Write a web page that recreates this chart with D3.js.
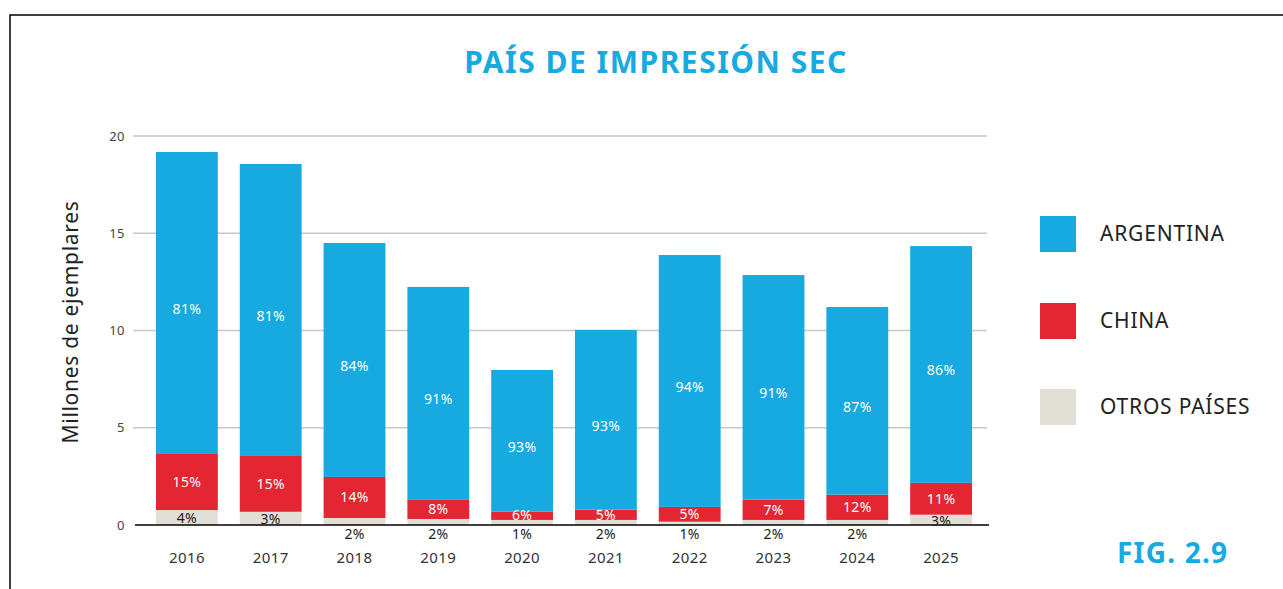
<!DOCTYPE html>
<html>
<head>
<meta charset="utf-8">
<script src="https://cdn.jsdelivr.net/npm/d3@7"></script>
<style>
  body { margin: 0; background: #fff; }
  svg { display: block; font-family: "Noto Sans", sans-serif; }
</style>
</head>
<body>
<svg id="chart" width="1283" height="589"></svg>
<script>
// data (millions of copies)
const years = ["2016", "2017", "2018", "2019", "2020", "2021", "2022", "2023", "2024", "2025"];
const argentina = [15.53, 15.01, 12.03, 10.95, 7.29, 9.24, 12.95, 11.55, 9.65, 12.17];
const china = [2.88, 2.87, 2.11, 0.98, 0.42, 0.53, 0.76, 1.04, 1.30, 1.64];
const otros = [0.77, 0.68, 0.36, 0.31, 0.26, 0.26, 0.17, 0.26, 0.26, 0.53];

// percentage labels printed on the bars
const pctArgentina = ["81%", "81%", "84%", "91%", "93%", "93%", "94%", "91%", "87%", "86%"];
const pctChina = ["15%", "15%", "14%", "8%", "6%", "5%", "5%", "7%", "12%", "11%"];
const pctOtros = ["4%", "3%", "2%", "2%", "1%", "2%", "1%", "2%", "2%", "3%"];

const yTicks = [0, 5, 10, 15, 20];
const seriesNames = ["ARGENTINA", "CHINA", "OTROS PAÍSES"];
const colors = ["#16aae1", "#e42632", "#e2e0d6"];

const svg = d3.select("#chart");

// frame lines (top and left)
svg.append("path")
    .attr("d", "M10,589 L10,15 L1283,15")
    .attr("fill", "none")
    .attr("stroke", "#000")
    .attr("stroke-width", 1.5);

const x = d3.scaleBand()
    .domain(years)
    .range([145, 983])
    .paddingInner(0.262)
    .paddingOuter(0.131);

const y = d3.scaleLinear()
    .domain([0, 20])
    .range([525, 136]);

// gridlines + tick labels
const grid = svg.append("g");
grid.selectAll("line")
    .data(yTicks.filter(d => d > 0))
    .join("line")
    .attr("x1", 133).attr("x2", 987)
    .attr("y1", d => y(d)).attr("y2", d => y(d))
    .attr("stroke", "#c8c8c8")
    .attr("stroke-width", 1.5);

grid.selectAll("text")
    .data(yTicks)
    .join("text")
    .attr("x", 125)
    .attr("y", d => y(d))
    .attr("dy", "0.35em")
    .attr("text-anchor", "end")
    .attr("font-size", 13)
    .attr("letter-spacing", 0.5)
    .attr("fill", "#444")
    .text(d => d);

// stack the series
const rows = years.map((yr, i) => ({ year: yr, a: argentina[i], c: china[i], o: otros[i] }));
const stack = d3.stack().keys(["o", "c", "a"])(rows);
const colorFor = { a: colors[0], c: colors[1], o: colors[2] };

svg.append("g").selectAll("g")
    .data(stack)
    .join("g")
    .attr("fill", d => colorFor[d.key])
    .selectAll("rect")
    .data(d => d)
    .join("rect")
    .attr("x", d => x(d.data.year))
    .attr("width", x.bandwidth())
    .attr("y", d => y(d[1]))
    .attr("height", d => y(d[0]) - y(d[1]));

// baseline
svg.append("line")
    .attr("x1", 135).attr("x2", 989)
    .attr("y1", y(0)).attr("y2", y(0))
    .attr("stroke", "#000")
    .attr("stroke-width", 1.5);

// labels
const labels = svg.append("g").attr("font-size", 14).attr("letter-spacing", 0.3).attr("text-anchor", "middle");
const cx = d => x(d) + x.bandwidth() / 2;

years.forEach((yr, i) => {
    const oTop = otros[i], cTop = otros[i] + china[i], aTop = cTop + argentina[i];
    labels.append("text")
        .attr("x", cx(yr))
        .attr("y", (y(cTop) + y(aTop)) / 2 + 6)
        .attr("dy", "0.35em")
        .attr("fill", "#fff")
        .text(pctArgentina[i]);
    labels.append("text")
        .attr("x", cx(yr))
        .attr("y", Math.min((y(oTop) + y(cTop)) / 2, y(0) - 10))
        .attr("dy", "0.35em")
        .attr("fill", "#fff")
        .text(pctChina[i]);
    const inside = oTop > 0.5;
    labels.append("text")
        .attr("x", cx(yr))
        .attr("y", inside ? (y(0) + y(oTop)) / 2 + 1 : y(0) + 9)
        .attr("dy", "0.35em")
        .attr("fill", "#222")
        .text(pctOtros[i]);
});

// year labels
svg.append("g").selectAll("text")
    .data(years)
    .join("text")
    .attr("x", d => cx(d))
    .attr("y", 558)
    .attr("dy", "0.35em")
    .attr("text-anchor", "middle")
    .attr("font-size", 15)
    .attr("letter-spacing", 0.4)
    .attr("fill", "#333")
    .text(d => d);

// y axis title
svg.append("text")
    .attr("transform", "translate(71,322) rotate(-90)")
    .attr("text-anchor", "middle")
    .attr("dy", "0.35em")
    .attr("font-size", 21)
    .attr("letter-spacing", 0.7)
    .attr("fill", "#222")
    .text("Millones de ejemplares");

// title
svg.append("text")
    .attr("x", 656)
    .attr("y", 62)
    .attr("dy", "0.35em")
    .attr("text-anchor", "middle")
    .attr("font-size", 30)
    .attr("font-weight", 700)
    .attr("letter-spacing", 1.5)
    .attr("fill", "#16aae1")
    .text("PAÍS DE IMPRESIÓN SEC");

// legend
const legend = svg.append("g");
const legendY = [234, 321, 407];
seriesNames.forEach((name, i) => {
    legend.append("rect")
        .attr("x", 1040).attr("y", legendY[i] - 18)
        .attr("width", 36).attr("height", 36)
        .attr("fill", colors[i]);
    legend.append("text")
        .attr("x", 1100).attr("y", legendY[i])
        .attr("dy", "0.35em")
        .attr("font-size", 21)
        .attr("letter-spacing", 0.8)
        .attr("fill", "#222")
        .text(name);
});

// figure number
svg.append("text")
    .attr("x", 1117)
    .attr("y", 553)
    .attr("dy", "0.35em")
    .attr("font-size", 28)
    .attr("font-weight", 700)
    .attr("letter-spacing", 1.2)
    .attr("fill", "#16aae1")
    .text("FIG. 2.9");
</script>
</body>
</html>
